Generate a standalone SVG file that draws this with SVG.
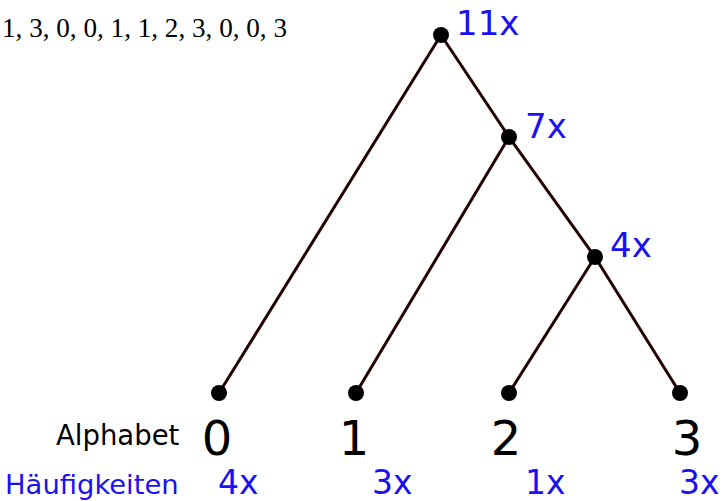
<svg xmlns="http://www.w3.org/2000/svg" width="724" height="501" viewBox="0 0 724 501">
<style>
.edge{stroke:#220000;stroke-width:3;fill:none}
.dot{fill:#000}
.cnt{font-family:"DejaVu Sans",sans-serif;fill:#1a10f0;font-size:34px}
.freq{font-family:"DejaVu Sans",sans-serif;fill:#1a10f0;font-size:33px}
.sym{font-family:"DejaVu Sans",sans-serif;fill:#000;font-size:48px;text-anchor:middle}
</style>
<rect width="724" height="501" fill="#fff"/>
<text x="2" y="37" font-family="'Liberation Serif',serif" font-size="28" textLength="285" lengthAdjust="spacingAndGlyphs">1, 3, 0, 0, 1, 1, 2, 3, 0, 0, 3</text>
<g id="connectors">
<line class="edge" x1="441" y1="35" x2="219" y2="393"/>
<line class="edge" x1="441" y1="35" x2="509" y2="137"/>
<line class="edge" x1="509" y1="137" x2="356" y2="393"/>
<line class="edge" x1="509" y1="137" x2="595" y2="257"/>
<line class="edge" x1="595" y1="257" x2="509" y2="393"/>
<line class="edge" x1="595" y1="257" x2="680" y2="393"/>
</g>
<g id="root"><circle class="dot" cx="441" cy="35" r="8"/><text class="cnt" x="456" y="35">11x</text></g>
<g id="n7"><circle class="dot" cx="509" cy="137" r="8"/><text class="cnt" x="525" y="138">7x</text></g>
<g id="n4"><circle class="dot" cx="595" cy="257" r="8"/><text class="cnt" x="610" y="257">4x</text></g>
<g id="leaf0"><circle class="dot" cx="219" cy="393" r="8"/><text class="sym" x="217" y="455">0</text><text class="freq" x="218" y="494">4x</text></g>
<g id="leaf1"><circle class="dot" cx="356" cy="393" r="8"/><text class="sym" x="354" y="455">1</text><text class="freq" x="372" y="494">3x</text></g>
<g id="leaf2"><circle class="dot" cx="509" cy="393" r="8"/><text class="sym" x="506" y="455">2</text><text class="freq" x="525" y="494">1x</text></g>
<g id="leaf3"><circle class="dot" cx="680" cy="393" r="8"/><text class="sym" x="687" y="455">3</text><text class="freq" x="679" y="494">3x</text></g>
<g id="labels">
<text x="56" y="445" font-family="'DejaVu Sans',sans-serif" font-size="27.5" fill="#000">Alphabet</text>
<text x="5" y="494" font-family="'DejaVu Sans',sans-serif" font-size="27.4" fill="#1a10f0">Häufigkeiten</text>
</g>
</svg>
